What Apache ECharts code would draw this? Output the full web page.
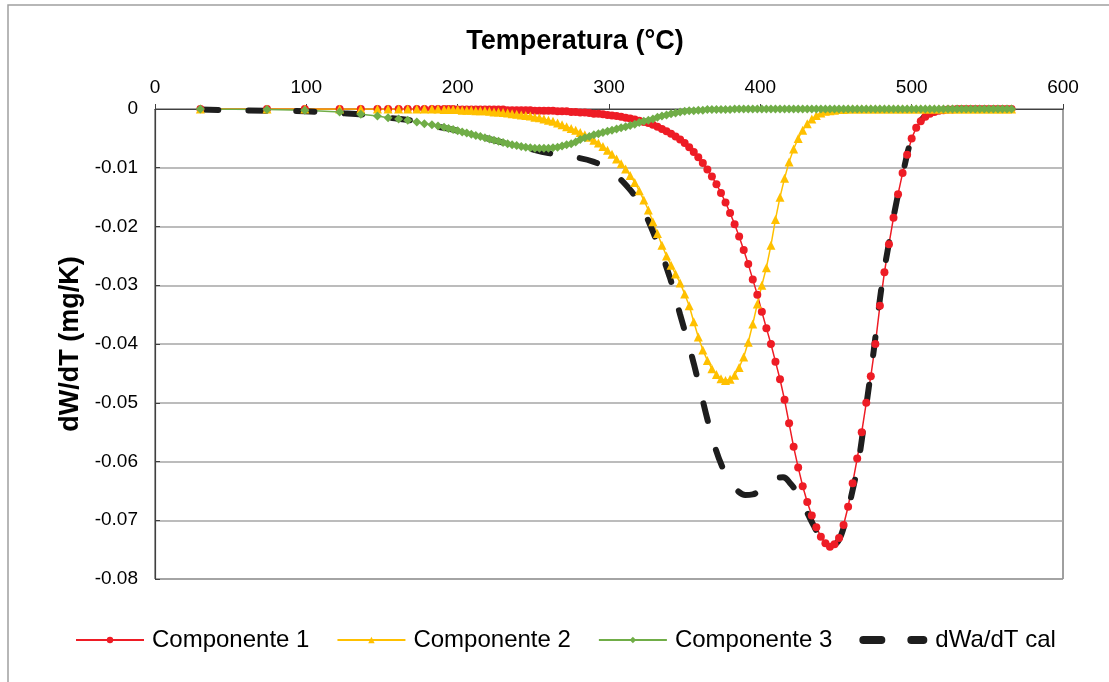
<!DOCTYPE html>
<html>
<head>
<meta charset="utf-8">
<script src="https://cdn.jsdelivr.net/npm/echarts@6/dist/echarts.min.js"></script>
<style>
  html, body {margin: 0; padding: 0; background: #fff;}
  #chart {width: 1109px; height: 682px;}
</style>
</head>
<body>
<div id="chart"></div>
<script>
// temperatura (°C) de los puntos de las componentes
const temps = [
  30, 74, 99, 122, 136, 147, 154, 161, 167, 173, 178, 183, 187,
  191, 194, 197, 200, 203, 206, 209, 212, 215, 218,
  221, 224, 227, 230, 233, 236, 239, 242, 245, 248,
  251, 254, 257, 260, 263, 266, 269, 272, 275, 278,
  281, 284, 287, 290, 293, 296, 299, 302, 305, 308,
  311, 314, 317, 320, 323, 326, 329, 332, 335, 338,
  341, 344, 347, 350, 353, 356, 359, 362, 365, 368,
  371, 374, 377, 380, 383, 386, 389, 392, 395, 398,
  401, 404, 407, 410, 413, 416, 419, 422, 425, 428,
  431, 434, 437, 440, 443, 446, 449, 452, 455, 458,
  461, 464, 467, 470, 473, 476, 479, 482, 485, 488,
  491, 494, 497, 500, 503, 506, 509, 512, 515, 518,
  521, 524, 527, 530, 533, 536, 539, 542, 545, 548,
  551, 554, 557, 560, 563, 566,
]

const comp1 = [
  0, 0, 0, 0, 0, 0, 0, 0, 0, 0, 0, 0, 0,
  0, 0, 0, -0.0001, -0.0001, -0.0001, -0.0001, -0.0001, -0.0001, -0.0001,
  -0.0001, -0.0001, -0.0001, -0.0001, -0.0002, -0.0002, -0.0002, -0.0002, -0.0002, -0.0002,
  -0.0003, -0.0003, -0.0003, -0.0003, -0.0003, -0.0004, -0.0004, -0.0004, -0.0005, -0.0005,
  -0.0006, -0.0006, -0.0007, -0.0008, -0.0008, -0.0009, -0.001, -0.0011, -0.0012, -0.0013,
  -0.0015, -0.0016, -0.0018, -0.002, -0.0022, -0.0024, -0.0027, -0.003, -0.0034, -0.0038,
  -0.0042, -0.0047, -0.0052, -0.0058, -0.0065, -0.0073, -0.0082, -0.0092, -0.0103, -0.0115,
  -0.0128, -0.0143, -0.0159, -0.0177, -0.0196, -0.0217, -0.024, -0.0264, -0.029, -0.0316,
  -0.0345, -0.0373, -0.04, -0.043, -0.046, -0.0495, -0.0535, -0.0575, -0.061, -0.0642,
  -0.0669, -0.0692, -0.0712, -0.0728, -0.0739, -0.0745, -0.0741, -0.073, -0.0708, -0.0677,
  -0.0637, -0.0595, -0.055, -0.05, -0.0455, -0.04, -0.0335, -0.0278, -0.023, -0.0185,
  -0.0145, -0.0109, -0.0078, -0.005, -0.0032, -0.0021, -0.0013, -0.0008, -0.0005, -0.0003,
  -0.0002, -0.0001, -0.0001, 0, 0, 0, 0, 0, 0, 0,
  0, 0, 0, 0, 0, 0,
]

const comp2 = [
  0, 0, 0, 0, 0, 0, 0, 0, 0, 0, 0, 0, 0,
  -0.0001, -0.0001, -0.0001, -0.0001, -0.0002, -0.0002, -0.0002, -0.0003, -0.0003, -0.0003,
  -0.0004, -0.0005, -0.0005, -0.0006, -0.0007, -0.0008, -0.0009, -0.001, -0.0011, -0.0012,
  -0.0014, -0.0015, -0.0017, -0.0019, -0.0021, -0.0024, -0.0027, -0.003, -0.0033, -0.0036,
  -0.004, -0.0044, -0.0048, -0.0053, -0.0058, -0.0064, -0.007, -0.0077, -0.0085, -0.0093,
  -0.0102, -0.0113, -0.0125, -0.0139, -0.0155, -0.0172, -0.0192, -0.0212, -0.0232, -0.025,
  -0.0266, -0.0281, -0.0296, -0.0315, -0.0335, -0.0362, -0.0388, -0.041, -0.0428, -0.0442,
  -0.0452, -0.0459, -0.0462, -0.046, -0.0453, -0.044, -0.0422, -0.0397, -0.0366, -0.0332,
  -0.03, -0.027, -0.0232, -0.0188, -0.015, -0.0118, -0.009, -0.0068, -0.005, -0.0036,
  -0.0025, -0.0017, -0.0011, -0.0007, -0.0004, -0.0003, -0.0002, -0.0001, -0.0001, 0,
  0, 0, 0, 0, 0, 0, 0, 0, 0, 0,
  0, 0, 0, 0, 0, 0, 0, 0, 0, 0,
  0, 0, 0, 0, 0, 0, 0, 0, 0, 0,
  0, 0, 0, 0, 0, 0,
]

const comp3 = [
  0, -0.0001, -0.0002, -0.0005, -0.0009, -0.0012, -0.0015, -0.0017, -0.0019, -0.0022, -0.0025, -0.0027, -0.0029,
  -0.0031, -0.0033, -0.0035, -0.0037, -0.0039, -0.0041, -0.0043, -0.0045, -0.0047, -0.0049,
  -0.0051, -0.0053, -0.0055, -0.0057, -0.0059, -0.0061, -0.0062, -0.0064, -0.0065, -0.0066,
  -0.0067, -0.0067, -0.0067, -0.0067, -0.0066, -0.0065, -0.0063, -0.0061, -0.0059, -0.0056,
  -0.0052, -0.0049, -0.0047, -0.0044, -0.0042, -0.004, -0.0038, -0.0036, -0.0034, -0.0032,
  -0.003, -0.0028, -0.0026, -0.0023, -0.0021, -0.0019, -0.0017, -0.0014, -0.0012, -0.001,
  -0.0008, -0.0007, -0.0005, -0.0004, -0.0003, -0.0003, -0.0002, -0.0002, -0.0001, -0.0001,
  -0.0001, -0.0001, -0.0001, -0.0001, 0, 0, 0, 0, 0, 0,
  0, 0, 0, 0, 0, 0, 0, 0, 0, 0,
  0, 0, 0, 0, 0, 0, 0, 0, 0, 0,
  0, 0, 0, 0, 0, 0, 0, 0, 0, 0,
  0, 0, 0, 0, 0, 0, 0, 0, 0, 0,
  0, 0, 0, 0, 0, 0, 0, 0, 0, 0,
  0, 0, 0, 0, 0, 0,
]

// curva calculada (línea discontinua)
const calTemps = [
  30, 50, 74, 99, 122, 140, 155, 170, 185, 200, 215, 230, 245, 260, 275, 290,
  300, 310, 320, 330, 340, 347, 352, 356, 360, 365, 370, 375, 380, 385, 390, 395,
  400, 405, 410, 415, 420, 425, 430, 435, 440, 445, 450, 455, 460, 465, 470, 475,
  480, 485, 490, 495, 500, 505, 510, 520, 530, 545, 562,
]
const calValues = [
  -0.0001, -0.0002, -0.0003, -0.0004, -0.0007, -0.001, -0.0015, -0.002, -0.0029, -0.0037,
  -0.0047, -0.0057, -0.0066, -0.0075, -0.0081, -0.009,
  -0.0104, -0.0126, -0.016, -0.0215, -0.0285, -0.035, -0.0395, -0.0433, -0.0475, -0.0528,
  -0.0575, -0.061, -0.0635, -0.065, -0.0657, -0.0656,
  -0.0648, -0.0637, -0.0628, -0.0627, -0.0638, -0.0656, -0.0682, -0.0708, -0.073, -0.0743,
  -0.074, -0.0713, -0.066, -0.0598, -0.0505, -0.041,
  -0.0305, -0.0228, -0.0158, -0.01, -0.005, -0.0024, -0.001, -0.0003, -0.0001, 0, 0,
]

const xTicks = [0, 100, 200, 300, 400, 500, 600]
const yTicks = [0, -0.01, -0.02, -0.03, -0.04, -0.05, -0.06, -0.07, -0.08]

const fontFamily = '"Liberation Sans", Arial, sans-serif'
const axisColor = '#404040'
const gridColor = '#a6a6a6'
const red = '#ee1c25'
const yellow = '#ffc000'
const green = '#70ad47'
const black = '#1e1e1e'

// icono de la leyenda: dos trazos gruesos redondeados
const dashIcon = 'path://M4,0H22A4,4 0 0 1 22,8H4A4,4 0 0 1 4,0Z M52,0H64A4,4 0 0 1 64,8H52A4,4 0 0 1 52,0Z'

const pairs = vals => temps.map((t, i) => [t, vals[i]])

const compSeries = (name, vals, color, symbol, size) => ({
  name,
  type: 'line',
  data: pairs(vals),
  symbol,
  symbolSize: size,
  showAllSymbol: true,
  lineStyle: {color, width: 1.5},
  itemStyle: {color},
})

const option = {
  animation: false,
  backgroundColor: '#fff',
  textStyle: {fontFamily},
  graphic: [{
    type: 'rect',
    shape: {x: 8, y: 5, width: 1200, height: 800},
    style: {fill: 'none', stroke: '#a0a0a0', lineWidth: 1.5},
    silent: true,
  }],
  grid: {
    left: 155,
    right: 46,
    top: 109,
    bottom: 103,
    show: true,
    borderColor: axisColor,
    borderWidth: 1,
    backgroundColor: 'transparent',
  },
  legend: {
    top: 623,
    left: 70,
    itemWidth: 68,
    itemHeight: 8,
    itemGap: 27,
    textStyle: {fontSize: 24, color: '#000', fontFamily, padding: [0, 0, 0, 3]},
    data: [
      'Componente 1',
      'Componente 2',
      'Componente 3',
      {name: 'dWa/dT cal', icon: dashIcon},
    ],
  },
  xAxis: {
    type: 'value',
    position: 'top',
    min: xTicks[0],
    max: xTicks[xTicks.length - 1],
    interval: 100,
    name: 'Temperatura (°C)',
    nameLocation: 'middle',
    nameGap: 54,
    nameTextStyle: {
      fontSize: 27, fontWeight: 'bold', color: '#000', fontFamily,
      padding: [0, 68, 0, 0],
    },
    axisLine: {show: true, onZero: false, lineStyle: {color: axisColor, width: 1.2}},
    axisTick: {show: true, inside: false, length: 5, lineStyle: {color: axisColor}},
    axisLabel: {fontSize: 19, color: '#000', margin: 12},
    splitLine: {show: false},
  },
  yAxis: {
    type: 'value',
    min: yTicks[yTicks.length - 1],
    max: yTicks[0],
    interval: 0.01,
    name: 'dW/dT (mg/K)',
    nameLocation: 'middle',
    nameGap: 70,
    nameRotate: 90,
    nameTextStyle: {fontSize: 27, fontWeight: 'bold', color: '#000', fontFamily},
    axisLine: {show: true, lineStyle: {color: axisColor, width: 1.2}},
    axisTick: {show: true, inside: true, length: 5, lineStyle: {color: axisColor}},
    axisLabel: {
      fontSize: 19, color: '#000', margin: 17,
      formatter: v => String(+v.toFixed(2)),
    },
    splitLine: {show: true, lineStyle: {color: gridColor, width: 1.5}},
  },
  series: [
    compSeries('Componente 1', comp1, red, 'circle', 8),
    compSeries('Componente 2', comp2, yellow, 'triangle', 9),
    compSeries('Componente 3', comp3, green, 'diamond', 9),
    {
      name: 'dWa/dT cal',
      type: 'line',
      data: calTemps.map((t, i) => [t, calValues[i]]),
      symbol: 'none',
      smooth: 0.4,
      lineStyle: {color: black, width: 6, type: [18, 30], cap: 'round'},
      itemStyle: {color: black},
    },
  ],
}

const chart = echarts.init(document.getElementById('chart'))
chart.setOption(option)
</script>
</body>
</html>
